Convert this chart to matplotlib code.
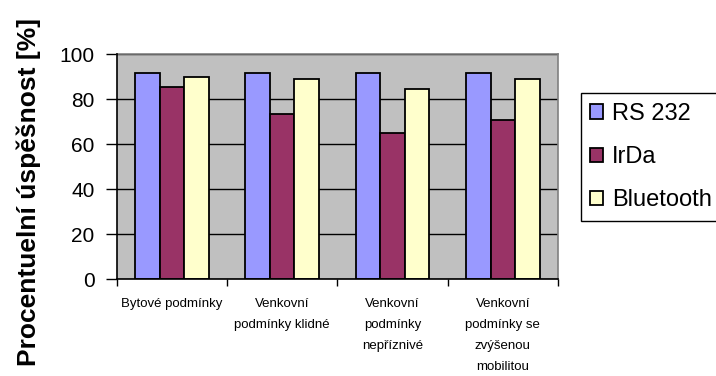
import matplotlib
matplotlib.use("Agg")
import matplotlib.pyplot as plt
import numpy as np
from matplotlib.patches import Patch

plt.rcParams['font.family'] = ['Liberation Sans', 'DejaVu Sans']

categories = ["Bytové podmínky", "Venkovní\npodmínky klidné", "Venkovní\npodmínky\nnepříznivé",
              "Venkovní\npodmínky se\nzvýšenou\nmobilitou"]
series_names = ["RS 232", "IrDa", "Bluetooth"]
rs232 = [91.7, 91.7, 91.7, 91.7]
irda = [85.2, 73.4, 64.8, 70.7]
bluetooth = [89.9, 88.9, 84.3, 88.9]
colors = ["#9999FF", "#993366", "#FFFFCC"]
y_ticks = [0, 20, 40, 60, 80, 100]
y_label = "Procentuelní úspěšnost [%]"

fig = plt.figure(figsize=(7.16, 3.76), dpi=100)
ax = fig.add_axes([116.7 / 716, 1 - 279.3 / 376, (558 - 116.7) / 716, (279.3 - 54) / 376])
ax.set_facecolor("#C0C0C0")

x = np.arange(len(categories))
w = 1 / 4.5
for i, (vals, c) in enumerate(zip([rs232, irda, bluetooth], colors)):
    ax.bar(x + (i - 1) * w, vals, width=w, color=c, edgecolor="black", linewidth=1.3, zorder=3,
           label=series_names[i])

ax.set_xlim(-0.5, len(categories) - 0.5)
ax.set_ylim(0, 100)
ax.set_yticks(y_ticks)
ax.set_yticklabels([str(t) for t in y_ticks], fontsize=15)
ax.yaxis.grid(True, color="black", linewidth=1.0, zorder=1)
ax.set_axisbelow(True)

# category labels centred between boundary ticks
ax.set_xticks(np.arange(len(categories) + 1) - 0.5)
ax.set_xticklabels([])
ax.tick_params(axis="x", length=5, width=1, color="black", direction="out")
ax.tick_params(axis="y", length=8, width=1, color="black", direction="out", pad=8)
for xi, lab in zip(x, categories):
    ax.text(xi, -8.3, lab, ha="center", va="top", fontsize=9.5, linespacing=2.0,
            transform=ax.transData, clip_on=False)

for s in ["top", "right"]:
    ax.spines[s].set_color("#808080")
    ax.spines[s].set_linewidth(1.2)
for s in ["left", "bottom"]:
    ax.spines[s].set_color("black")
    ax.spines[s].set_linewidth(1.2)
    ax.spines[s].set_zorder(4)

fig.text(28.5 / 716, 1 - 191.5 / 376, y_label, rotation=90, ha="center", va="center",
         fontsize=19, fontweight="bold")

handles = [Patch(facecolor=c, edgecolor="black", linewidth=1.3) for c in colors]
leg = fig.legend(handles, series_names, loc="upper left",
                 bbox_to_anchor=(580.7 / 716, 1 - 93.3 / 376), fontsize=17,
                 frameon=True, fancybox=False, edgecolor="black", framealpha=1,
                 borderpad=0.4, labelspacing=0.9, handlelength=0.55, handleheight=0.55,
                 handletextpad=0.38, borderaxespad=0)
leg.get_frame().set_linewidth(1.0)

fig.savefig("out.png", dpi=100)
